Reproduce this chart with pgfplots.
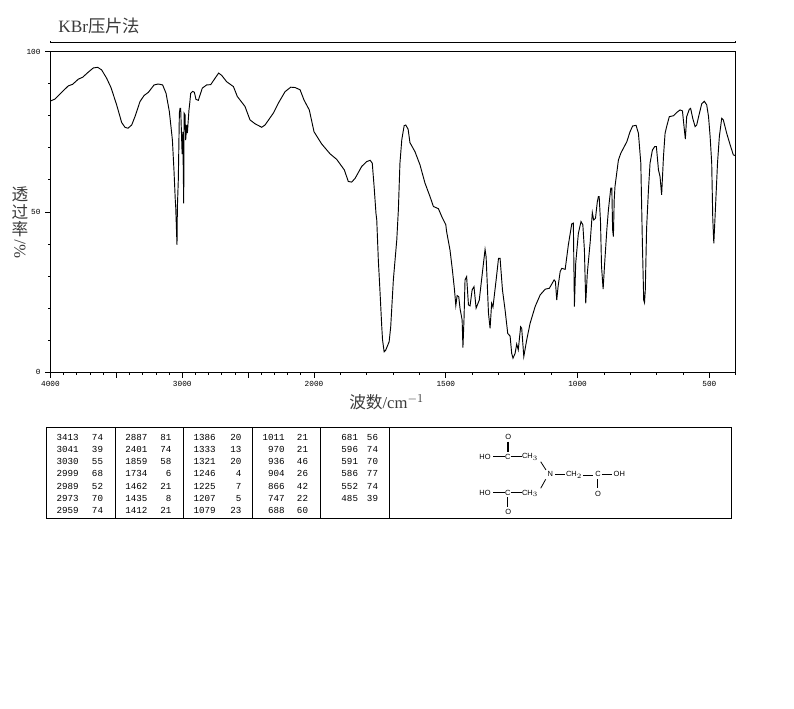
\documentclass[border=0pt]{standalone}
\usepackage{fontspec}
\usepackage{pgfplots}
\pgfplotsset{compat=1.18}
\setmainfont{Liberation Serif}
\setsansfont{Liberation Sans}
\setmonofont{Liberation Mono}
\newfontfamily\cjk{Noto Sans CJK SC}
\definecolor{labelgray}{HTML}{3A3A3A}

\begin{document}
\begin{tikzpicture}[x=0.75pt,y=-0.75pt]
\path[use as bounding box] (0,0) rectangle (794,709);

% header
\node[anchor=west,text=labelgray,inner sep=0pt,font=\fontsize{13}{13}\selectfont] at (58,26) {KBr{\cjk 压片法}};
\draw[line width=0.75pt] (50.5,41.5) -- (50.5,43) -- (735.5,43) -- (735.5,41.5);

\begin{axis}[
  at={(37.875pt,-279.2pt)}, anchor=south west,
  scale only axis, width=513.9pt, height=240.5pt,
  x dir=reverse,
  % scale changes by a factor two at 2000 cm-1
  x coord trafo/.code={\pgfmathparse{#1>2000?1000+#1/2:#1}},
  xmin=400, xmax=4000, ymin=0, ymax=100,
  axis line style={line width=0.75pt},
  tick style={black,line width=0.6pt},
  tick align=outside, xtick pos=bottom, ytick pos=left,
  major tick length=4pt, minor tick length=1.8pt,
  xtick={4000,3500,3000,2500,2000,1500,1000,500},
  xticklabels={4000,,3000,,2000,1500,1000,500},
  minor xtick={3900,3800,3700,3600,3400,3300,3200,3100,2900,2800,2700,2600,2400,2300,2200,2100,1900,1800,1700,1600,1400,1300,1200,1100,900,800,700,600,400},
  ytick={0,50,100}, yticklabels={0,50,100},
  minor ytick={10,20,30,40,60,70,80,90},
  tick label style={font=\fontsize{5.8}{6}\ttfamily},
  xticklabel style={yshift=1pt},
  yticklabel style={xshift=0pt},
]
\addplot[black,line width=0.7pt,mark=none] table {
4000 84.6
3966 85.2
3903 87.8
3865 89.3
3832 89.8
3789 91.4
3756 92.0
3713 93.6
3675 94.9
3642 95.1
3612 94.3
3574 91.7
3541 88.8
3498 83.4
3460 77.9
3435 76.4
3412 76.1
3384 77.1
3359 79.7
3321 84.4
3290 86.3
3257 87.3
3214 89.6
3182 89.9
3149 89.6
3123 87.0
3098 81.3
3075 72.5
3063 63.1
3053 53.7
3050 51.9
3040 39.7
3037 51.5
3030 60.0
3022 80.8
3017 82.3
3012 82.3
3001 68.0
2996 75.0
2989 52.7
2986 80.8
2979 80.3
2974 72.4
2966 77.1
2961 74.6
2956 77.7
2949 81.8
2943 84.0
2936 87.0
2921 87.6
2908 87.3
2896 85.1
2878 84.8
2865 86.5
2848 88.6
2815 89.6
2784 89.7
2751 91.7
2724 93.3
2701 92.6
2663 90.6
2612 89.1
2582 86.0
2524 82.9
2486 78.7
2448 77.5
2397 76.4
2372 77.1
2309 80.8
2271 83.9
2220 87.5
2177 88.9
2144 88.8
2106 88.1
2076 84.9
2036 81.8
2000 75.0
1971 71.2
1939 68.1
1914 66.4
1885 63.1
1870 59.5
1857 59.3
1844 60.5
1819 64.2
1800 65.7
1787 66.1
1779 65.2
1772 57.9
1765 49.6
1762 47.5
1756 35.0
1750 25.7
1743 14.2
1740 10.1
1734 6.4
1728 6.9
1715 9.5
1709 14.2
1699 28.8
1686 41.3
1680 50.6
1674 65.2
1667 72.5
1658 76.9
1652 77.1
1643 75.8
1636 71.6
1617 68.8
1598 64.7
1579 59.0
1560 54.8
1547 51.7
1528 51.0
1515 48.5
1500 46.0
1497 43.9
1484 38.1
1475 31.9
1467 25.7
1462 20.8
1457 23.9
1451 23.6
1446 19.9
1438 16.3
1435 7.7
1431 16.3
1427 28.8
1421 29.8
1414 21.0
1408 20.7
1400 25.7
1393 26.7
1385 20.0
1373 22.5
1360 31.9
1351 38.3
1347 36.0
1338 18.4
1332 13.7
1326 21.5
1321 20.3
1309 28.8
1300 35.5
1294 35.5
1285 25.7
1275 19.4
1265 12.1
1256 11.3
1250 5.9
1245 4.4
1237 5.9
1231 8.8
1225 7.0
1216 14.2
1212 13.7
1204 4.9
1193 10.1
1180 15.3
1161 20.5
1142 24.1
1123 25.9
1107 26.2
1089 28.8
1084 28.3
1079 22.5
1074 26.7
1066 31.4
1060 32.4
1047 32.1
1035 39.7
1022 46.3
1016 46.5
1012 20.5
1007 34.0
997 43.3
987 47.0
980 46.0
974 38.1
969 21.5
963 30.9
952 40.7
944 49.8
939 47.5
932 48.0
925 53.2
921 54.8
918 54.8
913 47.0
909 32.9
903 25.9
898 32.9
889 44.4
883 50.6
874 57.4
870 57.4
867 44.4
864 42.3
861 53.7
858 57.9
845 66.2
836 68.3
813 71.9
801 75.0
791 76.8
778 77.0
769 74.5
760 65.2
754 40.0
749 22.5
746 21.7
743 25.7
738 45.0
731 56.9
725 65.2
716 69.3
707 70.4
701 70.4
693 63.1
687 61.0
681 55.3
674 67.3
668 74.5
662 76.6
652 79.7
636 80.0
624 81.0
611 81.8
602 81.5
596 76.6
591 72.7
586 79.7
576 82.0
571 82.3
563 79.2
554 76.6
548 77.1
539 80.3
529 83.7
519 84.5
510 83.4
503 79.7
497 73.5
491 65.2
487 48.0
483 40.2
478 49.0
469 65.2
462 73.5
453 79.2
447 78.7
434 74.5
421 70.9
409 67.8
400 67.5
};
\end{axis}

% axis titles
\node[text=labelgray,inner sep=0pt,font=\cjk\fontsize{12.5}{12.5}\selectfont] at (20,194) {透};
\node[text=labelgray,inner sep=0pt,font=\cjk\fontsize{12.5}{12.5}\selectfont] at (20,212) {过};
\node[text=labelgray,inner sep=0pt,font=\cjk\fontsize{12.5}{12.5}\selectfont] at (20,229) {率};
\node[text=labelgray,inner sep=0pt,rotate=90,font=\fontsize{12.5}{12.5}\selectfont] at (20,249) {\%/};
\node[anchor=west,text=labelgray,inner sep=0pt,font=\fontsize{12.5}{12.5}\selectfont] at (349,402) {{\cjk 波数}/cm$^{-1}$};

% peak table
\draw[line width=0.75pt] (46.7,427.3) rectangle (731.7,519);
\foreach \x in {115.3,183.3,252.7,320.3,389.3} \draw[line width=0.75pt] (\x,427.3) -- (\x,519);
\foreach \xa/\xb/\rows in {
  79/103.3/{3413/74,3041/39,3030/55,2999/68,2989/52,2973/70,2959/74},
  147.7/171.7/{2887/81,2401/74,1859/58,1734/6,1462/21,1435/8,1412/21},
  216/241.7/{1386/20,1333/13,1321/20,1246/4,1225/7,1207/5,1079/23},
  285/308.3/{1011/21,970/21,936/46,904/26,866/42,747/22,688/60},
  358.3/378.3/{681/56,596/74,591/70,586/77,552/74,485/39}}{
  \foreach \w/\t [count=\i from 0] in \rows {
    \node[anchor=east,inner sep=0pt,font=\fontsize{6.9}{7}\ttfamily] at (\xa,437+12.3*\i) {\w};
    \node[anchor=east,inner sep=0pt,font=\fontsize{6.9}{7}\ttfamily] at (\xb,437+12.3*\i) {\t};
  }
}

% structure
\begin{scope}[every node/.style={inner sep=0pt,font=\sffamily\fontsize{5.6}{6}\selectfont},line width=0.6pt]
\node at (508.3,436.7) {O};
\node at (485,456.7) {HO};
\node at (507.7,456.7) {C};
\node at (530,457) {CH$_{3}$};
\node at (550.3,474.3) {N};
\node at (574,475) {CH$_{2}$};
\node at (598,474.3) {C};
\node at (619.3,474.3) {OH};
\node at (598,494.3) {O};
\node at (485,492.7) {HO};
\node at (507.7,492.7) {C};
\node at (530,493.3) {CH$_{3}$};
\node at (508.3,512.3) {O};
\draw[line width=1.4pt] (507.7,441.7) -- (507.7,451.7);
\draw (493.3,456.7) -- (504.5,456.7);
\draw (510.7,456.7) -- (521.7,456.7);
\draw (540.7,461.7) -- (546,470);
\draw (555,474.3) -- (565,474.3);
\draw (583.3,475) -- (593.3,475);
\draw (601.7,474.3) -- (611.7,474.3);
\draw[line width=1.4pt] (597.5,479.3) -- (597.5,488.3);
\draw (493.3,492.7) -- (504.5,492.7);
\draw (510.7,492.7) -- (521.7,492.7);
\draw (540.7,488.3) -- (545.7,479.3);
\draw[line width=1.4pt] (507.5,497.3) -- (507.5,507.3);
\end{scope}
\end{tikzpicture}
\end{document}
